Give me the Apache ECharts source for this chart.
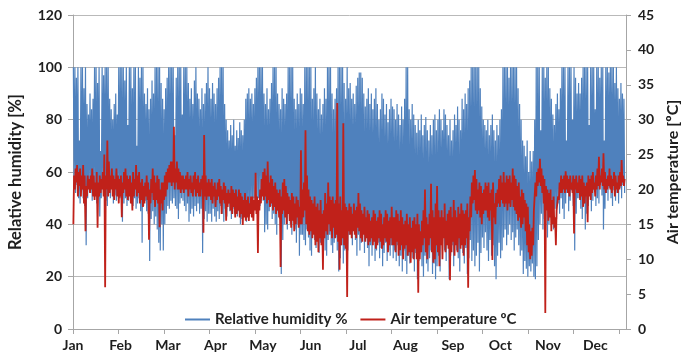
<!DOCTYPE html>
<html>
<head>
<meta charset="utf-8">
<script src="https://cdn.jsdelivr.net/npm/echarts@6/dist/echarts.min.js"></script>
<style>
  html, body { margin: 0; padding: 0; background: #ffffff; }
  #chart { width: 681px; height: 355px; }
</style>
</head>
<body>
<div id="chart"></div>
<script>
// Month labels for the time axis
const monthLabels = ['Jan', 'Feb', 'Mar', 'Apr', 'May', 'Jun', 'Jul', 'Aug', 'Sep', 'Oct', 'Nov', 'Dec'];

// Daily maximum relative humidity (%), one row per month
const rhHigh = [
  100, 100, 96, 100, 72, 100, 100, 92, 100, 86, 82, 90, 84, 88, 100, 100, 94, 100, 68, 100, 97, 100, 100, 100, 88, 84, 80, 86, 90, 82, 100,
  100, 100, 100, 95, 100, 78, 100, 100, 92, 100, 100, 70, 100, 96, 100, 100, 90, 86, 92, 84, 88, 95, 90, 100, 100, 100, 100, 94,
  88, 84, 92, 96, 100, 100, 100, 100, 74, 96, 100, 100, 100, 82, 100, 100, 100, 94, 88, 92, 86, 95, 100, 90, 88, 84, 92, 86, 90, 94, 100,
  92, 88, 94, 90, 86, 92, 96, 100, 100, 100, 86, 80, 76, 72, 78, 74, 80, 70, 76, 73, 79, 76, 74, 80, 88, 90, 92, 88, 90, 86,
  92, 96, 100, 100, 100, 100, 90, 86, 92, 84, 88, 94, 100, 100, 100, 90, 86, 84, 92, 88, 86, 90, 100, 100, 100, 100, 88, 84, 90, 86, 92,
  90, 86, 100, 100, 100, 100, 100, 88, 92, 100, 90, 84, 88, 82, 86, 92, 88, 100, 100, 100, 90, 84, 88, 92, 100, 100, 100, 100, 94, 88,
  100, 92, 94, 88, 90, 86, 93, 96, 98, 98, 96, 90, 85, 88, 92, 86, 90, 84, 88, 92, 86, 80, 84, 90, 88, 82, 86, 79, 84, 88, 85,
  84, 80, 86, 82, 78, 85, 80, 88, 100, 100, 84, 80, 86, 82, 78, 75, 80, 76, 82, 74, 78, 81, 76, 72, 78, 74, 80, 82, 76, 80, 84,
  80, 76, 84, 82, 78, 74, 80, 72, 76, 82, 78, 85, 80, 76, 88, 84, 90, 86, 92, 95, 100, 100, 100, 100, 100, 100, 92, 85, 80, 78,
  76, 80, 74, 78, 82, 76, 72, 78, 74, 80, 84, 100, 100, 100, 100, 96, 100, 100, 100, 100, 100, 92, 86, 80, 72, 70, 66, 72, 60, 68, 64,
  68, 80, 100, 100, 100, 76, 100, 100, 96, 100, 100, 92, 88, 82, 78, 86, 90, 84, 92, 100, 100, 100, 72, 100, 100, 100, 80, 100, 96, 90,
  94, 90, 96, 100, 100, 100, 100, 78, 100, 100, 100, 84, 100, 100, 96, 100, 100, 72, 100, 100, 98, 100, 100, 100, 94, 100, 92, 88, 94, 90, 88
];

// Daily minimum relative humidity (%)
const rhLow = [
  58, 52, 55, 50, 48, 53, 50, 47, 32, 50, 55, 52, 49, 54, 51, 48, 52, 43, 50, 55, 53, 49, 47, 52, 50, 54, 48, 51, 49, 53, 50,
  50, 41, 48, 50, 47, 49, 52, 48, 47, 50, 46, 48, 50, 45, 33, 47, 49, 45, 44, 26, 42, 45, 40, 43, 38, 33, 30, 40,
  30, 40, 44, 47, 46, 49, 48, 50, 47, 46, 42, 48, 50, 49, 47, 45, 48, 41, 44, 46, 43, 47, 45, 48, 44, 46, 29, 42, 45, 41, 44,
  44, 41, 46, 43, 41, 45, 42, 47, 44, 41, 46, 43, 48, 45, 42, 46, 44, 47, 43, 45, 40, 42, 46, 44, 41, 45, 43, 47, 45, 50,
  52, 48, 50, 47, 53, 49, 37, 40, 38, 45, 47, 42, 44, 40, 36, 45, 42, 21, 34, 40, 43, 38, 45, 40, 36, 42, 38, 33, 40, 28, 36,
  36, 34, 32, 38, 35, 30, 28, 37, 34, 31, 36, 29, 33, 37, 35, 30, 28, 34, 36, 32, 29, 33, 35, 30, 22, 27, 32, 25, 30, 34,
  30, 36, 38, 32, 40, 34, 28, 36, 30, 33, 38, 29, 35, 31, 24, 32, 28, 34, 26, 30, 33, 27, 31, 24, 29, 33, 26, 30, 28, 32, 27,
  30, 26, 32, 24, 28, 22, 30, 26, 21, 28, 25, 31, 27, 22, 29, 19, 26, 30, 24, 20, 28, 25, 22, 27, 30, 21, 25, 19, 24, 28, 22,
  35, 42, 30, 26, 38, 19, 28, 32, 24, 36, 30, 27, 22, 33, 29, 25, 31, 21, 27, 34, 26, 30, 24, 28, 33, 22, 29, 35, 31, 37,
  30, 26, 34, 28, 32, 24, 19, 28, 33, 27, 30, 35, 38, 32, 36, 40, 34, 37, 30, 35, 38, 32, 28, 30, 21, 26, 23, 20, 24, 22, 25,
  20, 19, 24, 34, 40, 44, 38, 42, 47, 35, 40, 45, 43, 38, 46, 42, 48, 44, 50, 46, 42, 48, 52, 45, 49, 53, 47, 30, 44, 50,
  50, 46, 42, 48, 38, 44, 47, 52, 45, 49, 53, 47, 50, 48, 55, 51, 38, 46, 52, 49, 54, 50, 47, 53, 49, 52, 48, 54, 50, 55, 52
];

// Daily maximum air temperature (ºC)
const tHigh = [
  22, 23, 23.5, 22.5, 23, 22, 23.5, 22, 20.5, 22, 21.5, 22, 23, 22, 21, 22.5, 21, 22, 21.5, 22.5, 25, 22, 27, 24, 22, 23, 22, 21.5, 23, 22, 21.5,
  22, 21, 22.5, 23, 22, 21.5, 22, 21, 22.5, 21.5, 23.5, 22, 22.5, 21, 21.5, 20.5, 21, 22, 21, 20, 21.5, 23, 22, 21, 22, 21.5, 20, 21,
  21, 22, 22.5, 23, 23.5, 24, 24, 29, 23, 24, 23, 22.5, 22, 22, 21.5, 22, 22.5, 21.5, 22, 21, 22, 22.5, 21.5, 22, 21, 21.5, 22, 27.8, 22, 21, 21.5,
  21, 21.5, 20.5, 21, 20, 21, 21.5, 20.5, 20, 21, 20.5, 19.5, 20, 19.5, 20.5, 20, 19.5, 20, 19, 20, 19.5, 19, 18.5, 19.5, 18.5, 19, 18, 19, 19, 18.5,
  22.4, 19, 18.5, 20, 21.5, 22.5, 23, 22, 24, 21, 22, 21.5, 20.5, 21, 20, 19.5, 20, 19, 21, 21.5, 20.5, 19.5, 19, 18.5, 19.5, 19, 18, 19, 18.5, 17.5, 25.6,
  20, 21, 28.5, 22, 20, 19, 18.5, 18, 19, 17.5, 18, 17, 18.5, 16.5, 17, 19.5, 18, 21, 19, 18.5, 19, 18, 18.5, 32.4, 18, 19, 17, 29.5, 18, 17.5,
  17, 18, 17.5, 16.5, 18, 17, 17.5, 19.5, 18, 17, 16.5, 17.5, 16, 17, 16.5, 15.5, 16, 17, 16.5, 15.5, 16, 17, 16.5, 15, 16, 17, 16.5, 15.5, 16, 17.5, 16,
  16, 17, 16.5, 15.5, 17, 16, 15, 15.5, 16.5, 15, 16, 14.5, 15.5, 16, 15, 16.5, 15, 14, 15.5, 17, 20, 16, 15, 16.5, 20.8, 17, 16, 18, 20.5, 17, 16,
  17, 16, 18, 15.5, 16.5, 17, 17.5, 16, 18.5, 17, 16, 17.5, 16.5, 18, 17, 16.5, 17, 18, 16, 19, 21, 22, 22.8, 21.5, 20, 21, 20.5, 19.5, 20, 21,
  20.5, 21, 19.5, 20, 21, 18, 19.5, 20, 21.5, 22, 21, 22.5, 21, 22, 21.5, 22, 21, 23, 22, 21.5, 20.5, 21, 19, 20, 19.5, 18.5, 18, 17.5, 15, 14, 14.5,
  17, 21, 22.5, 23, 24.4, 23, 22, 21.5, 20.5, 20, 19.5, 20, 18.5, 19, 16, 17, 19, 21, 22, 21.5, 22, 22.6, 22, 21.5, 22, 21, 22, 21.5, 22, 21,
  22, 21.5, 22, 21, 20.5, 21, 22, 21.5, 22, 22.5, 21, 22, 23, 24.7, 22, 23, 25.2, 22.5, 21.5, 22, 23, 22, 21.5, 22.5, 22, 21, 22, 22.5, 24.2, 22, 21.5
];

// Daily minimum air temperature (ºC)
const tLow = [
  15, 20, 21, 19, 20.5, 19, 20, 18, 14, 19, 20, 19.5, 20, 19, 18.5, 19, 14.5, 19, 19.5, 20, 19, 6, 20, 19, 19.5, 20, 19, 18.5, 20, 19, 18,
  19, 16, 19.5, 20, 19, 18.5, 19, 18, 17, 19, 20, 19, 19.5, 18, 18.5, 17.5, 18, 19, 18.5, 12.8, 18, 19.5, 18.5, 17.5, 18.5, 18, 14.6, 18,
  17, 18.5, 19, 20, 21, 21, 20.5, 21, 20, 21, 20, 20, 19.5, 20, 19.5, 20, 20, 19, 20, 19.5, 19, 20, 19, 19.5, 19, 19, 20, 13.8, 19, 18.5, 19,
  19, 18.5, 18, 19, 17.5, 18.5, 19, 18, 16.5, 18.5, 18, 15.5, 17.5, 18, 17, 16.5, 17.5, 16, 16.5, 17, 16, 16.5, 14.9, 16, 15.5, 16, 15.5, 16.5, 16, 15.5,
  17, 16.5, 10.9, 17, 18, 19, 18.5, 19, 18, 18.5, 17.5, 18, 17, 17.5, 16.5, 17, 16, 8.9, 16.5, 17, 16, 15, 16.5, 15.5, 14.5, 15.5, 14, 15, 16, 14.5, 15,
  15, 16, 17, 15, 14, 13.5, 14, 13, 13.5, 12, 12.5, 11, 13, 12, 8.5, 13, 14, 13.5, 15, 14, 13, 14.5, 13, 13.5, 12.5, 8.5, 12, 13, 12, 11.5,
  4.6, 14, 13.5, 13, 14, 13.5, 13, 14.5, 14, 13, 12.5, 13.5, 12.5, 13, 12, 12.5, 13, 12, 12.5, 11.5, 12, 13, 12.5, 11.5, 12, 13, 12.5, 11, 12, 13, 12,
  12, 11, 12.5, 10.5, 11.3, 12, 10, 11.5, 12, 10.5, 11, 9.5, 11, 10, 11.5, 10, 5.2, 10, 11, 12, 13, 11, 10, 12, 13, 11, 9.5, 10, 12, 11, 9,
  12, 10, 13, 11, 12, 11.5, 7, 11, 12.5, 10.5, 12, 11, 13, 11.5, 12, 10.5, 12, 13, 5.9, 14, 16, 18, 18.5, 17, 16.5, 17, 16, 15, 16.5, 17,
  17, 16, 15.5, 17, 9.9, 16, 15, 17.5, 18, 17.5, 18.5, 18, 17.5, 18, 17, 18, 17.5, 18.5, 17.5, 17, 16.5, 15.5, 16, 14.5, 15, 16, 14, 12, 11, 10, 10.5,
  12, 17, 19, 20.5, 21, 20.5, 19.5, 18, 2.3, 17, 15.5, 16, 14, 15, 14.5, 12, 17, 18.5, 19.5, 19.5, 20, 19.5, 20, 19.5, 19, 20, 19.5, 13.7, 20, 19.5,
  19.5, 18.5, 19, 17.5, 18, 19, 15.3, 19, 18.5, 19.5, 20, 19, 20, 20.5, 20, 21, 20.5, 20, 19.5, 20, 20.5, 20, 19.5, 20.5, 19, 20, 19.5, 20, 20.5, 21, 20.5
];

// Each day contributes two readings: humidity peaks at night, temperature in the afternoon
const humidityData = [];
rhHigh.forEach((hi, d) => { humidityData.push([d + 0.25, hi], [d + 0.7, rhLow[d]]); });
const temperatureData = [];
tHigh.forEach((hi, d) => { temperatureData.push([d + 0.25, tLow[d]], [d + 0.7, hi]); });

// Time axis: tick marks every 30 days, month names every ~31 days
const TICK_SPAN = 30.08;
const LABEL_SPAN = 31.4;
const tickDays = Array.from({ length: 13 }, (_, k) => +(k * TICK_SPAN).toFixed(2));
const labelDays = monthLabels.map((_, k) => +(k * LABEL_SPAN).toFixed(2));

const AXIS_COLOR = '#a6a6a6';
const FONT = 'Lato';
const BLUE = '#4f81bd';
const RED = '#c0211a';

const chart = echarts.init(document.getElementById('chart'), null, { renderer: 'canvas' });
chart.setOption({
  animation: false,
  backgroundColor: '#ffffff',
  grid: { left: 73, right: 55, top: 15, bottom: 26, containLabel: false, outerBoundsMode: 'none' },
  legend: {
    left: 180, top: 307,
    itemWidth: 25, itemHeight: 2, itemGap: 13,
    textStyle: { fontFamily: FONT, fontWeight: 'bold', fontSize: 15, color: '#222222' },
    data: [
      { name: 'Relative humidity %', icon: 'rect', itemStyle: { color: BLUE } },
      { name: 'Air temperature ºC', icon: 'rect', itemStyle: { color: RED } }
    ]
  },
  xAxis: {
    type: 'value', min: 0, max: 365.6,
    axisLine: { show: true, lineStyle: { color: AXIS_COLOR } },
    axisTick: { show: true, length: 5, customValues: tickDays, lineStyle: { color: AXIS_COLOR } },
    splitLine: { show: false },
    axisLabel: {
      margin: 9, fontFamily: FONT, fontWeight: 'bold', fontSize: 14, color: '#1e1e1e',
      customValues: labelDays,
      formatter: v => monthLabels[Math.round(v / LABEL_SPAN)] || ''
    }
  },
  yAxis: [
    {
      type: 'value', min: 0, max: 120, interval: 20, position: 'left',
      name: 'Relative humidity [%]', nameLocation: 'middle', nameRotate: 90, nameGap: 49,
      nameTextStyle: { fontFamily: FONT, fontWeight: 'bold', fontSize: 16.5, color: '#1e1e1e' },
      axisLine: { show: true, lineStyle: { color: AXIS_COLOR } },
      axisTick: { show: true, length: 5, lineStyle: { color: AXIS_COLOR } },
      splitLine: { show: true, lineStyle: { color: '#b9b9b9', width: 1 } },
      axisLabel: { margin: 11, fontFamily: FONT, fontWeight: 'bold', fontSize: 14, color: '#1e1e1e' }
    },
    {
      type: 'value', min: 0, max: 45, interval: 5, position: 'right',
      name: 'Air temperature [ºC]', nameLocation: 'middle', nameRotate: 90, nameGap: 37,
      nameTextStyle: { fontFamily: FONT, fontWeight: 'bold', fontSize: 16, color: '#1e1e1e' },
      axisLine: { show: true, lineStyle: { color: AXIS_COLOR } },
      axisTick: { show: true, length: 5, lineStyle: { color: AXIS_COLOR } },
      splitLine: { show: false },
      axisLabel: { margin: 12, fontFamily: FONT, fontWeight: 'bold', fontSize: 14, color: '#1e1e1e' }
    }
  ],
  series: [
    {
      name: 'Relative humidity %', type: 'line', yAxisIndex: 0,
      data: humidityData, showSymbol: false, symbol: 'none', sampling: false,
      lineStyle: { color: BLUE, width: 1.2 }, itemStyle: { color: BLUE },
      z: 2
    },
    {
      name: 'Air temperature ºC', type: 'line', yAxisIndex: 1,
      data: temperatureData, showSymbol: false, symbol: 'none', sampling: false,
      lineStyle: { color: RED, width: 1.8 }, itemStyle: { color: RED },
      z: 3
    }
  ]
});
</script>
</body>
</html>
